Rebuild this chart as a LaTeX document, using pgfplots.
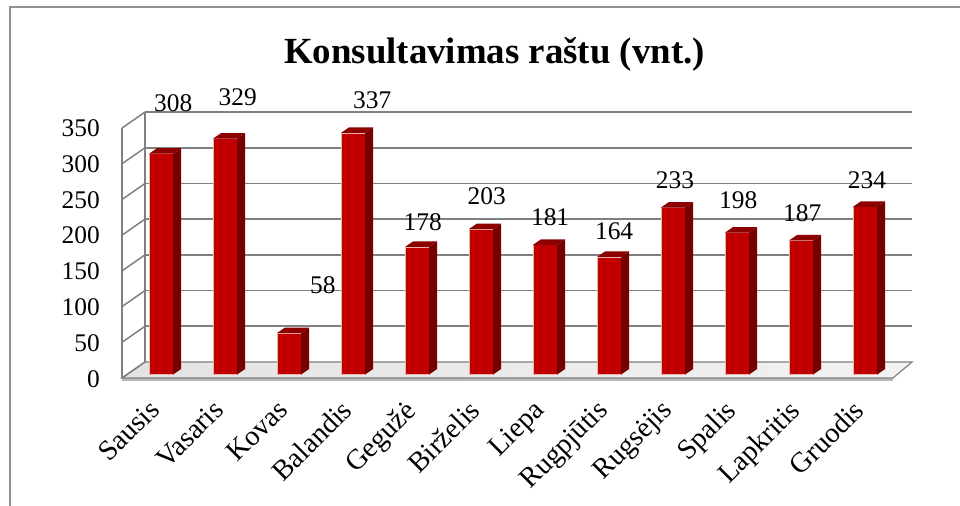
\documentclass[border=0pt]{standalone}
\usepackage{fontspec}
\setmainfont{Liberation Serif}
\usepackage{pgfplots}
\usepackage{pgfplotstable}
\pgfplotsset{compat=1.18}
\definecolor{barfront}{RGB}{192,0,0}
\definecolor{barside}{RGB}{118,0,0}
\definecolor{bartop}{RGB}{140,0,0}
\definecolor{gridgray}{RGB}{128,128,128}
\definecolor{framegray}{RGB}{145,145,145}

\pgfplotstableread{
x y
0 308
1 329
2 58
3 337
4 178
5 203
6 181
7 164
8 233
9 198
10 187
11 234
}\bardata

\pgfplotstableread{
lx ly t
0.19 379 308
1.20 387 329
2.53 125 58
3.30 383 337
4.09 213 178
5.09 249 203
6.08 220 181
7.08 200 164
8.03 271 233
9.02 243 198
10.02 225 187
11.03 271 234
}\labdata

\begin{document}
\begin{tikzpicture}
\useasboundingbox (0,0) rectangle (960bp,506bp);
\begin{scope}[x=1bp,y=-1bp,yshift=506bp]
  % outer frame
  \draw[framegray, line width=2.2bp] (10,507) -- (10,7) -- (961,7);
  % floor
  \fill[gray!55] (122,378) -- (893,378) -- (893,381) -- (122,381) -- cycle;
  \shade[left color=gray!22, right color=gray!10] (122,378) -- (893,378) -- (912,362) -- (145,362) -- cycle;
  \draw[gridgray, line width=1.2bp] (122,378) -- (893,378) -- (912,362) -- (145,362) -- cycle;
  % back wall grid and left wall lines
  \foreach \v in {50,100,...,350} {
    \draw[gridgray, line width=1.8bp] (145,{362-0.714*\v}) -- (912,{362-0.714*\v});
  }
  \foreach \v in {0,50,...,350} {
    \draw[gridgray, line width=1.5bp] (122,{378-0.714*\v}) -- (145,{362-0.714*\v});
  }
  \draw[gridgray, line width=1.5bp] (122,378) -- (122,128);
  \draw[gridgray, line width=1.5bp] (145,362) -- (145,112);
  % title
  \node[anchor=base, inner sep=0pt, font=\fontsize{37}{40}\selectfont\bfseries] at (494.5,64) {Konsultavimas raštu (vnt.)};
\end{scope}

\begin{axis}[
  at={(129bp,131.4bp)}, anchor=south west,
  scale only axis, width=768bp, height=251bp,
  xmin=-0.5, xmax=11.5, ymin=0, ymax=350,
  clip=false,
  axis line style={draw=none},
  major tick length=0pt,
  ytick={0,50,...,350},
  yticklabels={0,50,100,150,200,250,300,350},
  xtick={0,...,11},
  xticklabels={Sausis,Vasaris,Kovas,Balandis,Gegužė,Birželis,Liepa,Rugpjūtis,Rugsėjis,Spalis,Lapkritis,Gruodis},
  tick label style={inner sep=0pt, text=black},
  yticklabel style={font=\fontsize{25.5}{30}\selectfont, anchor=east, xshift=-29bp, yshift=-4.5bp},
  xticklabel style={font=\fontsize{28.5}{32}\selectfont, rotate=45, anchor=north east, xshift=-26.0bp, yshift=-7.2bp},
]
% 3D side and top faces
\addplot[
  only marks, scatter, mark=*, mark size=0pt, draw=none, fill=none,
  visualization depends on={y\as\barv},
  scatter/@pre marker code/.code={%
    \pgfmathsetmacro{\h}{\barv*0.717143}%
    \pgfmathsetmacro{\hb}{5.5-\h}%
    \fill[barside] (12bp,0bp) -- (20bp,5.5bp) -- (20bp,\hb bp) -- (12bp,-\h bp) -- cycle;
    \fill[bartop] (-12bp,0bp) -- (12bp,0bp) -- (20bp,5.5bp) -- (-4bp,5.5bp) -- cycle;
  },
  scatter/@post marker code/.code={},
] table[x=x,y=y] {\bardata};
% front faces
\addplot[ybar, bar width=24bp, bar shift=0pt, fill=barfront, draw=white!70!barfront, line width=0.8bp]
  table[x=x,y=y] {\bardata};
% value labels
\addplot[draw=none, mark=none, nodes near coords, point meta=explicit symbolic,
  nodes near coords align={center},
  every node near coord/.append style={inner sep=0pt, font=\fontsize{25.5}{30}\selectfont, text=black}]
  table[x=lx, y=ly, meta=t] {\labdata};
\end{axis}
\end{tikzpicture}
\end{document}
